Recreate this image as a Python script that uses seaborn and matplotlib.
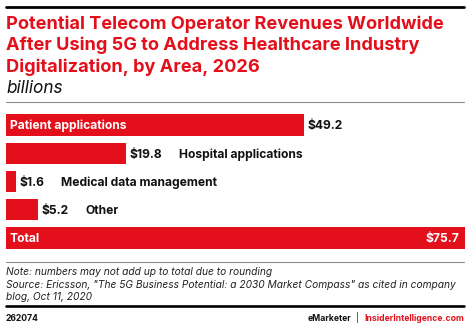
import matplotlib
matplotlib.use("Agg")
import matplotlib.pyplot as plt
import matplotlib.transforms as mtransforms
from matplotlib.lines import Line2D
import pandas as pd
import seaborn as sns

# Revenue by healthcare area, 2026 (billions of US dollars)
areas = ["Patient applications", "Hospital applications",
         "Medical data management", "Other", "Total"]
revenues = [49.2, 19.8, 1.6, 5.2, 75.7]
value_labels = ["$49.2", "$19.8", "$1.6", "$5.2", "$75.7"]

title_lines = [
    "Potential Telecom Operator Revenues Worldwide",
    "After Using 5G to Address Healthcare Industry",
    "Digitalization, by Area, 2026",
]
subtitle = "billions"
note_lines = [
    "Note: numbers may not add up to total due to rounding",
    "Source: Ericsson, \"The 5G Business Potential: a 2030 Market Compass\" as cited in company",
    "blog, Oct 11, 2020",
]
chart_id = "262074"
brand = "eMarketer"
site = "InsiderIntelligence.com"

RED = "#E3101C"
W, H = 470, 327

sns.set_theme(style="white")
plt.rcParams["font.family"] = ["Inter", "DejaVu Sans"]

fig = plt.figure(figsize=(W / 100, H / 100), dpi=100)
fig.patch.set_facecolor("white")
# pixel coordinates measured from the top-left corner of the figure
px = mtransforms.Affine2D().scale(1 / W, -1 / H).translate(0, 1) + fig.transFigure

# ---- bars ----
ax = fig.add_axes([6 / W, 1 - 252 / H, 459 / W, 141 / H])
df = pd.DataFrame({"area": areas, "revenue": revenues})
sns.barplot(data=df, x="revenue", y="area", color=RED, saturation=1,
            width=0.76, linewidth=0, ax=ax)
ax.set_xlim(0, 75.7)
ax.set_axis_off()

VAL_FS = 8.7
last = len(areas) - 1
for i, (area, val, lab) in enumerate(zip(areas, revenues, value_labels)):
    if i == last:
        ax.annotate(area, xy=(0, i), xytext=(3.5, -4.3), textcoords="offset pixels",
                    ha="left", va="baseline", color="white", fontweight="bold",
                    fontsize=VAL_FS)
        ax.annotate(lab, xy=(val, i), xytext=(-5.7, -4.3), textcoords="offset pixels",
                    ha="right", va="baseline", color="white", fontweight="bold",
                    fontsize=VAL_FS)
        continue
    vt = ax.annotate(lab, xy=(val, i), xytext=(3.5, -4.3), textcoords="offset pixels",
                     ha="left", va="baseline", color="#111111", fontweight="bold",
                     fontsize=VAL_FS)
    if i == 0:
        ax.annotate(area, xy=(0, i), xytext=(3.5, -4.3), textcoords="offset pixels",
                    ha="left", va="baseline", color="white", fontweight="bold",
                    fontsize=VAL_FS)
    else:
        ax.annotate(area, xy=(1, 0), xycoords=vt, xytext=(17, 0),
                    textcoords="offset pixels", ha="left", va="bottom",
                    color="#111111", fontweight="bold", fontsize=VAL_FS)

# ---- header ----
fig.add_artist(Line2D([6, 464], [6.5, 6.5], transform=px, color="black", lw=2.0))
for line, base in zip(title_lines, [28.8, 50.2, 71.5]):
    fig.text(6, base, line, transform=px, ha="left", va="baseline",
             color=RED, fontweight="bold", fontsize=13.1)
fig.text(6, 92.7, subtitle, transform=px, ha="left", va="baseline",
         color="#111111", fontstyle="italic", fontsize=12.4)
fig.add_artist(Line2D([6, 464], [102, 102], transform=px, color="#8c8c8c", lw=0.8))

# ---- notes and footer ----
fig.add_artist(Line2D([6, 464], [262, 262], transform=px, color="#8c8c8c", lw=0.8))
for line, base in zip(note_lines, [275, 288, 300.5]):
    fig.text(6, base, line, transform=px, ha="left", va="baseline",
             color="#222222", fontstyle="italic", fontsize=7.35)
fig.add_artist(Line2D([6, 464], [306.3, 306.3], transform=px, color="black", lw=1.9))
fig.text(6, 320.7, chart_id, transform=px, ha="left", va="baseline",
         color="#111111", fontweight="bold", fontsize=6.2)
st = fig.text(464, 320.7, site, transform=px, ha="right", va="baseline",
              color=RED, fontweight="bold", fontsize=6.2)
sep = plt.annotate("|", xy=(0, 0), xycoords=st, xytext=(-5, 0),
                   textcoords="offset pixels", ha="right", va="bottom",
                   color="#111111", fontsize=6.2, annotation_clip=False)
plt.annotate(brand, xy=(0, 0), xycoords=sep, xytext=(-5, 0),
             textcoords="offset pixels", ha="right", va="bottom",
             color="#111111", fontweight="bold", fontsize=6.2,
             annotation_clip=False)

fig.savefig("out.png", dpi=100, facecolor="white")
